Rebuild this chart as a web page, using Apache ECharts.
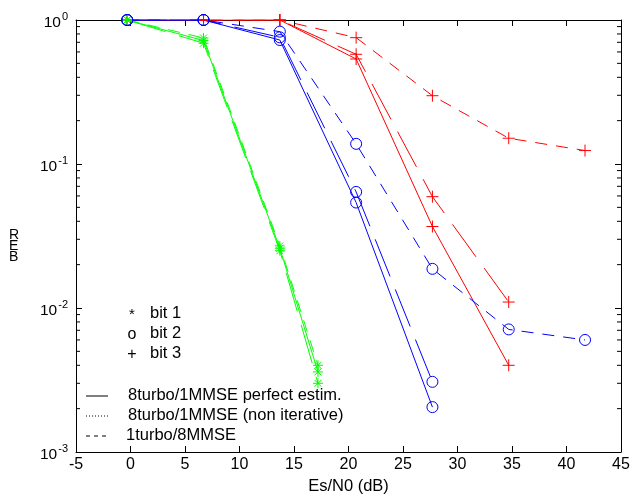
<!DOCTYPE html>
<html>
<head>
<meta charset="utf-8">
<script src="https://cdn.jsdelivr.net/npm/echarts@6/dist/echarts.min.js"></script>
<style>html,body{margin:0;padding:0;background:#fff;}#c{width:631px;height:498px;}</style>
</head>
<body>
<div id="c"></div>
<script>
// ---- data ----
var xGreen = [-0.3, 6.7, 13.7, 17.2];
var greenSolid = [1, 0.72, 0.026, 0.0036];
var greenDotted = [1, 0.69, 0.025, 0.0030];
var greenDashed = [1, 0.75, 0.027, 0.0040];

var xBlue = [-0.3, 6.7, 13.7, 20.7, 27.7];
var blueSolid = [1, 1, 0.726, 0.054, 0.00205];
var blueDotted = [1, 1, 0.758, 0.064, 0.00307];
var xBlueDash = [-0.3, 6.7, 13.7, 20.7, 27.7, 34.7, 41.7];
var blueDashed = [1, 1, 0.83, 0.138, 0.0187, 0.0071, 0.0060];

var xRed = [-0.3, 6.7, 13.7, 20.7, 27.7, 34.7];
var redSolid = [1, 1, 1, 0.536, 0.0368, 0.0040];
var redDotted = [1, 1, 1, 0.578, 0.0593, 0.011];
var xRedDash = [-0.3, 6.7, 13.7, 20.7, 27.7, 34.7, 41.7];
var redDashed = [1, 1, 1, 0.754, 0.298, 0.151, 0.124];

var xTicks = [-5, 0, 5, 10, 15, 20, 25, 30, 35, 40, 45];
var yDecades = [0.001, 0.01, 0.1, 1];
var minorMult = [2, 3, 4, 5, 6, 7, 8, 9];

var legendMarkers = ['*', 'o', '+'];
var legendBits = ['bit 1', 'bit 2', 'bit 3'];
var legendLines = ['8turbo/1MMSE perfect estim.', '8turbo/1MMSE (non iterative)', '1turbo/8MMSE'];

// ---- styles ----
var FONT = 'Liberation Sans, Arial, sans-serif';
var GREEN = '#00ff00', BLUE = '#0000ff', RED = '#ff0000';
var DOT_DASH = [40, 14];
var DASH = [12, 9];
var PLUS = 'path://M5,0L5,10M0,5L10,5';
var STAR = 'path://M5,0L5,10M0,5L10,5M1.5,1.5L8.5,8.5M1.5,8.5L8.5,1.5';

function zip(xs, ys) { return ys.map(function (y, i) { return [xs[i], y]; }); }

function mkSeries(name, xs, ys, color, dash, symbol, size) {
  return {
    name: name, type: 'line', data: zip(xs, ys),
    symbol: symbol, symbolSize: size,
    lineStyle: { color: color, width: 1, type: dash },
    itemStyle: { color: 'transparent', borderColor: color, borderWidth: 1 },
    emphasis: { disabled: true }, animation: false, z: 3
  };
}

var minorData = [];
yDecades.slice(0, 3).forEach(function (d) { minorMult.forEach(function (m) { minorData.push([d * m]); }); });

function expLabel(v) {
  var e = Math.round(Math.log10(v));
  return '{b|10}{s|' + e + '}';
}

var chart = echarts.init(document.getElementById('c'), null, { renderer: 'canvas' });

var series = [
  mkSeries('r1', xRed, redSolid, RED, 'solid', PLUS, 12),
  mkSeries('r2', xRed, redDotted, RED, DOT_DASH, PLUS, 12),
  mkSeries('r3', xRedDash, redDashed, RED, DASH, PLUS, 12),
  mkSeries('g1', xGreen, greenSolid, GREEN, 'solid', STAR, 10),
  mkSeries('g2', xGreen, greenDotted, GREEN, DOT_DASH, STAR, 10),
  mkSeries('g3', xGreen, greenDashed, GREEN, DASH, STAR, 10),
  mkSeries('b1', xBlue, blueSolid, BLUE, 'solid', 'circle', 11),
  mkSeries('b2', xBlue, blueDotted, BLUE, DOT_DASH, 'circle', 11),
  mkSeries('b3', xBlueDash, blueDashed, BLUE, DASH, 'circle', 11),
  {
    type: 'custom', data: minorData, silent: true, animation: false, z: 2,
    encode: { y: 0 },
    renderItem: function (params, api) {
      var v = api.value(0);
      var l = api.coord([-5, v]);
      var r = api.coord([45, v]);
      return {
        type: 'group', children: [
          { type: 'line', shape: { x1: l[0], y1: l[1], x2: l[0] + 4, y2: l[1] }, style: { stroke: '#000', lineWidth: 1 } },
          { type: 'line', shape: { x1: r[0], y1: r[1], x2: r[0] - 4, y2: r[1] }, style: { stroke: '#000', lineWidth: 1 } }
        ]
      };
    }
  }
];

var graphics = [];
// y axis title (stacked letters)
graphics.push({ type: 'text', left: 9, top: 228, style: { text: 'R\nE\nB', font: '14px ' + FONT, fill: '#000', lineHeight: 11 } });
legendMarkers.forEach(function (m, i) {
  graphics.push({ type: 'text', x: 132, y: 315 + i * 20, style: { text: m, font: (m === '*' ? '15px ' : '16px ') + FONT, fill: '#000', align: 'center', verticalAlign: 'middle' } });
  graphics.push({ type: 'text', x: 150, y: 313 + i * 20, style: { text: legendBits[i], font: '16.5px ' + FONT, fill: '#000', align: 'left', verticalAlign: 'middle' } });
});
var legendDash = [null, [1, 2], [4, 4]];
legendLines.forEach(function (t, i) {
  graphics.push({ type: 'line', shape: { x1: 86, y1: 396 + i * 20, x2: 108, y2: 396 + i * 20 }, style: { stroke: '#000', lineWidth: 1, lineDash: legendDash[i] } });
  graphics.push({ type: 'text', x: i === 2 ? 126 : 128, y: 395 + i * 20, style: { text: t, font: '16.5px ' + FONT, fill: '#000', align: 'left', verticalAlign: 'middle' } });
});

chart.setOption({
  backgroundColor: '#fff',
  animation: false,
  textStyle: { fontFamily: FONT },
  grid: { left: 76, right: 10, top: 20, bottom: 46, containLabel: false, outerBoundsMode: 'none' },
  xAxis: [
    {
      type: 'value', min: -5, max: 45, interval: 5, position: 'bottom',
      name: 'Es/N0 (dB)', nameLocation: 'middle', nameGap: 26,
      nameTextStyle: { fontSize: 16.5, color: '#000', fontFamily: FONT },
      axisLine: { show: true, onZero: false, lineStyle: { color: '#000', width: 1 } },
      axisTick: { show: true, inside: true, length: 6, lineStyle: { color: '#000' } },
      axisLabel: { fontSize: 16, color: '#000', margin: 5, fontFamily: FONT },
      splitLine: { show: false }
    },
    {
      type: 'value', min: -5, max: 45, interval: 5, position: 'top',
      axisLine: { show: true, onZero: false, lineStyle: { color: '#000', width: 1 } },
      axisTick: { show: true, inside: true, length: 6, lineStyle: { color: '#000' } },
      axisLabel: { show: false }, splitLine: { show: false }
    }
  ],
  yAxis: [
    {
      type: 'log', min: 0.001, max: 1, logBase: 10, position: 'left',
      axisLine: { show: true, onZero: false, lineStyle: { color: '#000', width: 1 } },
      axisTick: { show: true, inside: true, length: 6, lineStyle: { color: '#000' } },
      axisLabel: {
        color: '#000', margin: 8, formatter: expLabel,
        rich: { b: { fontSize: 15.5, fontFamily: FONT, color: '#000', padding: [6, 0, 0, 0] }, s: { fontSize: 11, fontFamily: FONT, color: '#000', padding: [0, 0, 7, 1] } }
      },
      splitLine: { show: false }
    },
    {
      type: 'log', min: 0.001, max: 1, logBase: 10, position: 'right',
      axisLine: { show: true, onZero: false, lineStyle: { color: '#000', width: 1 } },
      axisTick: { show: true, inside: true, length: 6, lineStyle: { color: '#000' } },
      axisLabel: { show: false }, splitLine: { show: false }
    }
  ],
  series: series,
  graphic: graphics
});
</script>
</body>
</html>
